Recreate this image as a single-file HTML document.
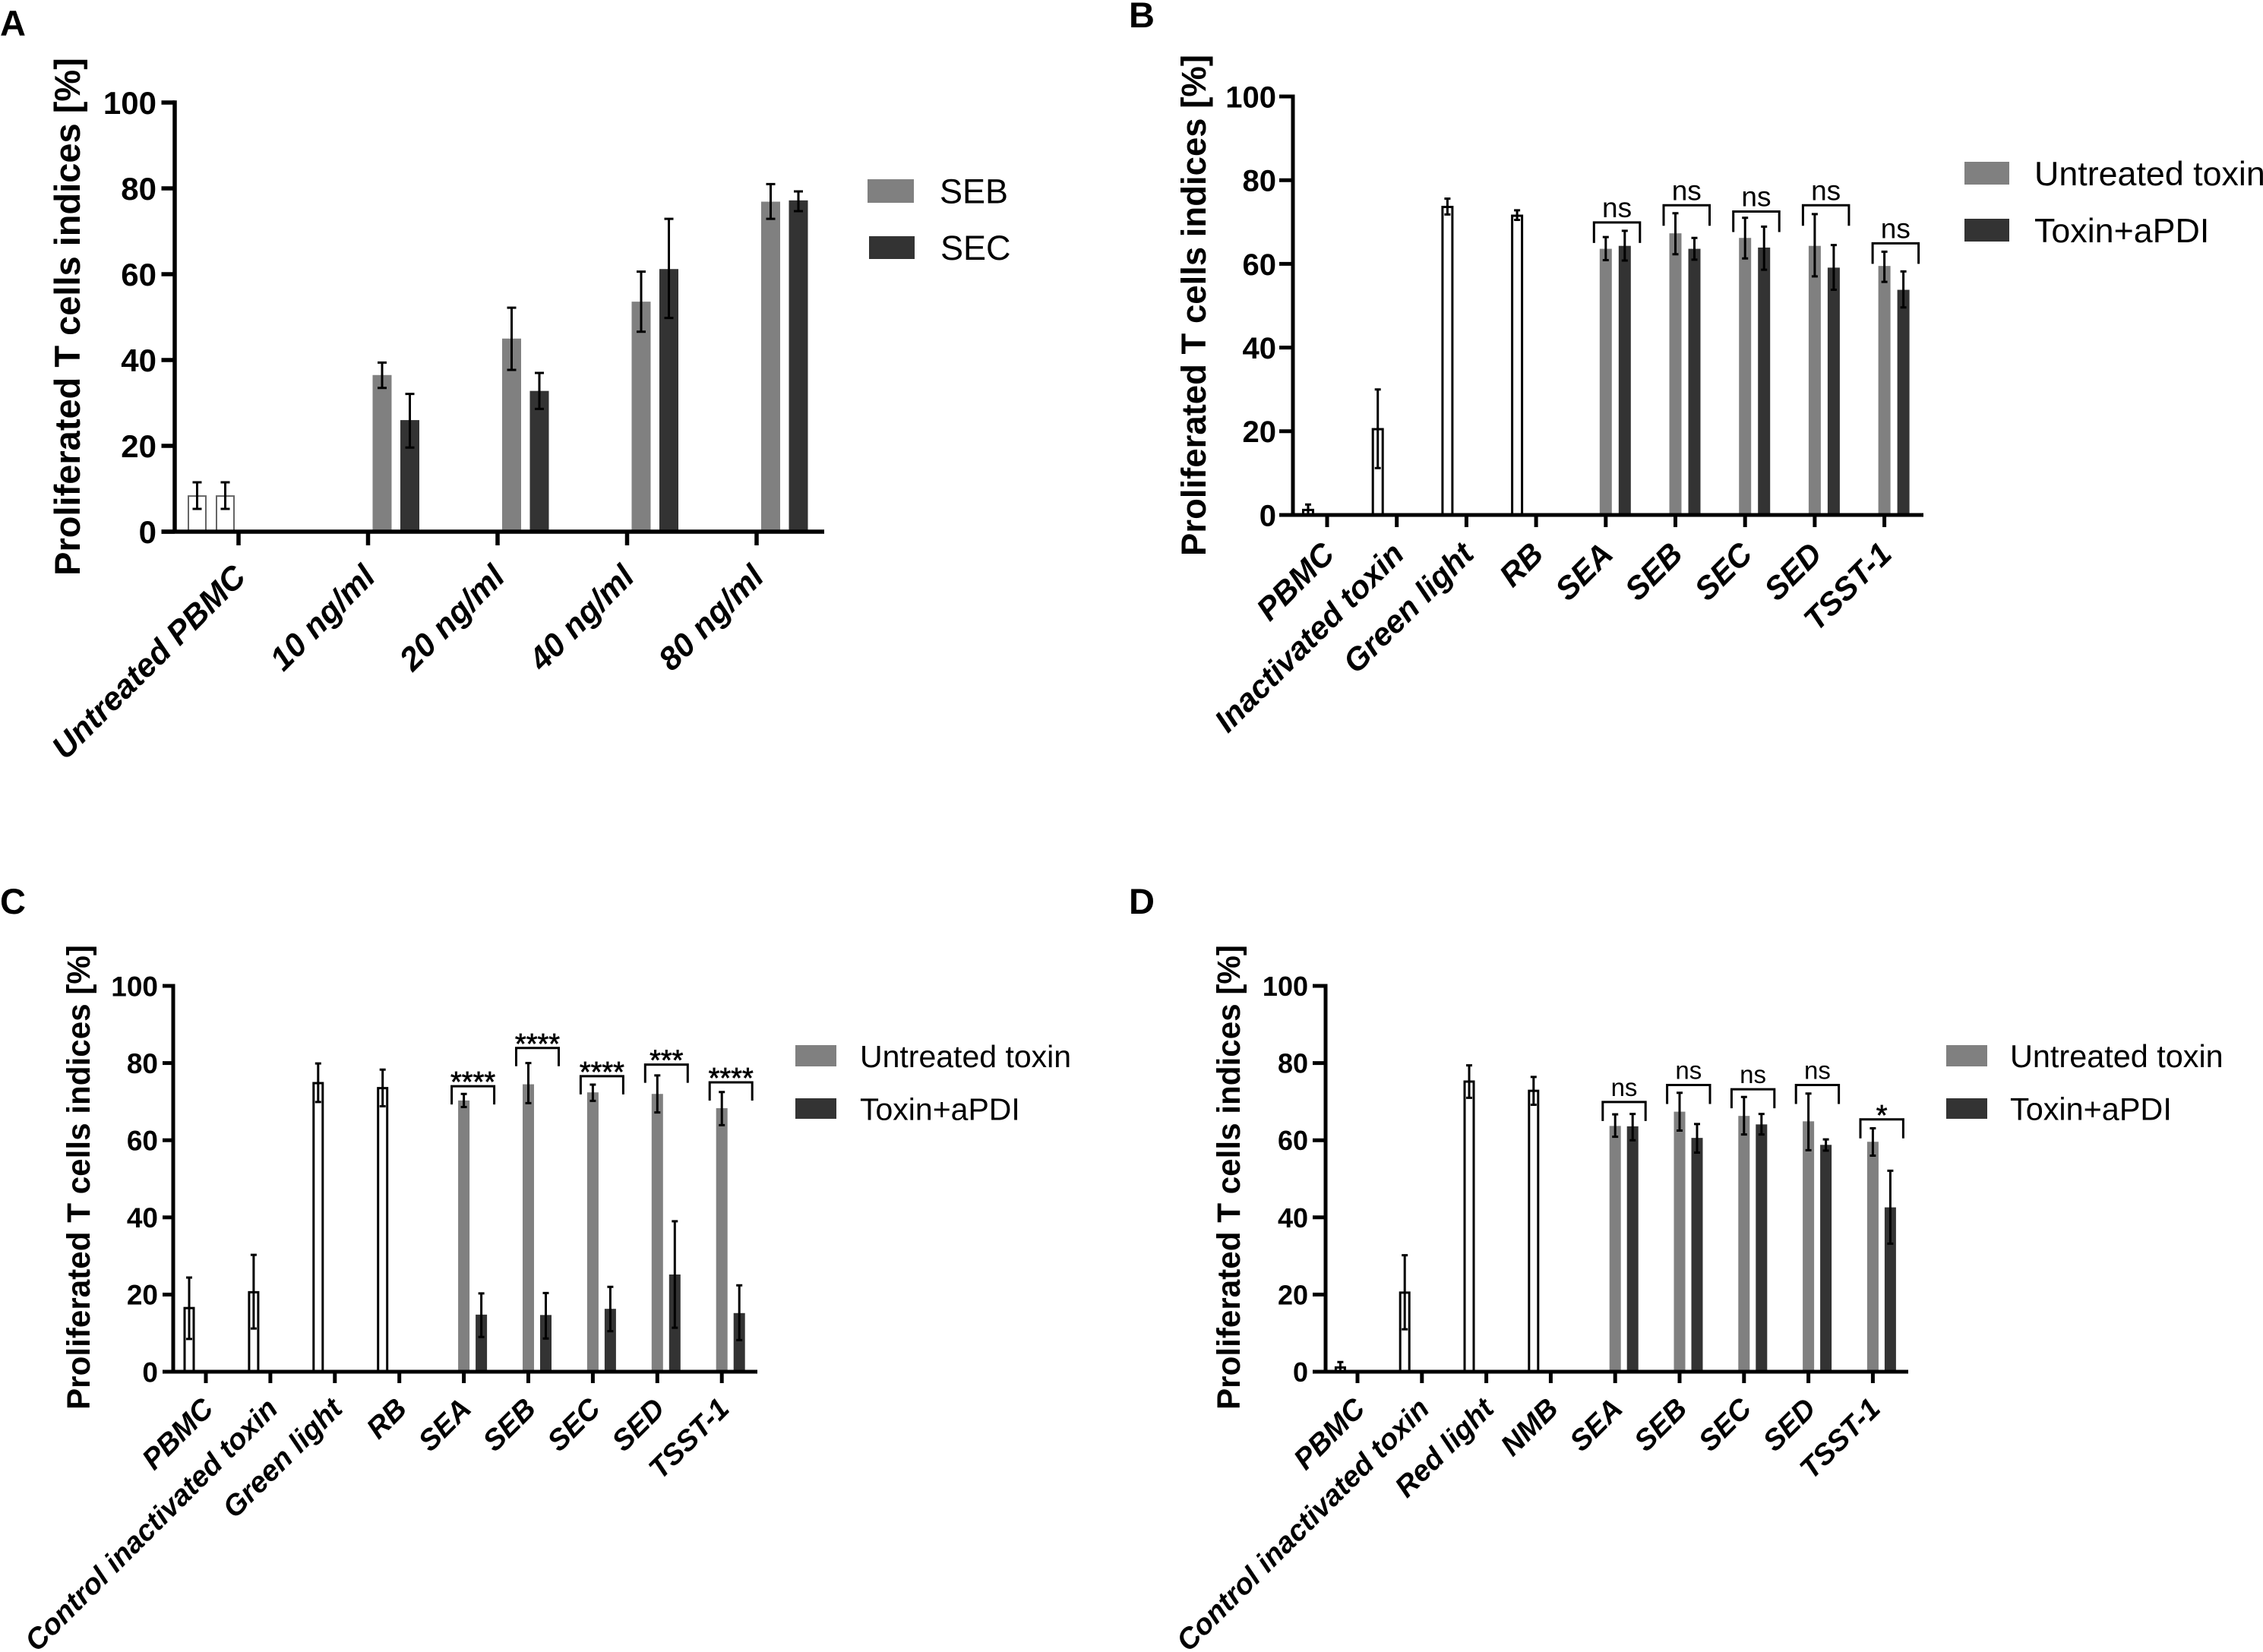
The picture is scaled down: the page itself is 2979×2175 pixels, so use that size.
<!DOCTYPE html>
<html lang="en">
<head>
<meta charset="utf-8">
<title>Proliferated T cells indices</title>
<style>
html,body{margin:0;padding:0;background:#fff;width:2979px;height:2175px;overflow:hidden}
svg{display:block}
text{font-family:"Liberation Sans",Arial,sans-serif;fill:#000}
</style>
</head>
<body>
<svg id="fig" xmlns="http://www.w3.org/2000/svg" width="2979" height="2175" viewBox="0 0 2979 2175"></svg>
<script>
const yTickValues = [0, 20, 40, 60, 80, 100];
const yAxisTitle = 'Proliferated T cells indices [%]';

/* Panel A */
const aCategories = ['Untreated PBMC', '10 ng/ml', '20 ng/ml', '40 ng/ml', '80 ng/ml'];
const aCtrl1 = [8.3, null, null, null, null];
const aCtrl1Hi = [11.5, null, null, null, null];
const aCtrl1Lo = [5.3, null, null, null, null];
const aCtrl2 = [8.3, null, null, null, null];
const aCtrl2Hi = [11.5, null, null, null, null];
const aCtrl2Lo = [5.3, null, null, null, null];
const aSEB = [null, 36.5, 45, 53.6, 76.9];
const aSEBHi = [null, 39.4, 52.2, 60.6, 81];
const aSEBLo = [null, 33.5, 37.7, 46.6, 72.9];
const aSEC = [null, 26, 32.8, 61.2, 77.2];
const aSECHi = [null, 32.1, 37, 72.9, 79.3];
const aSECLo = [null, 19.6, 28.6, 49.8, 74.7];

/* Panel B */
const bCategories = ['PBMC', 'Inactivated toxin', 'Green light', 'RB', 'SEA', 'SEB', 'SEC', 'SED', 'TSST-1'];
const bCtrl = [1.2, 20.5, 73.6, 71.5, null, null, null, null, null];
const bCtrlHi = [2.5, 30, 75.6, 72.8, null, null, null, null, null];
const bCtrlLo = [0, 11.2, 71.8, 70.5, null, null, null, null, null];
const bUntreated = [null, null, null, null, 63.6, 67.3, 66.2, 64.3, 59.5];
const bUntreatedHi = [null, null, null, null, 66.4, 72.1, 71, 71.9, 62.9];
const bUntreatedLo = [null, null, null, null, 60.9, 62.3, 61.3, 57, 55.7];
const bToxin = [null, null, null, null, 64.3, 63.6, 63.9, 59.1, 53.8];
const bToxinHi = [null, null, null, null, 67.9, 66.2, 68.9, 64.5, 58.2];
const bToxinLo = [null, null, null, null, 60.8, 61, 58.6, 53.8, 49.6];
const bBracketLevels = [null, null, null, null, 69.9, 74, 72.5, 74, 64.9];
const bBracketLabels = ['', '', '', '', 'ns', 'ns', 'ns', 'ns', 'ns'];

/* Panel C */
const cCategories = ['PBMC', 'Control inactivated toxin', 'Green light', 'RB', 'SEA', 'SEB', 'SEC', 'SED', 'TSST-1'];
const cCtrl = [16.5, 20.6, 74.8, 73.5, null, null, null, null, null];
const cCtrlHi = [24.4, 30.3, 79.9, 78.3, null, null, null, null, null];
const cCtrlLo = [8.5, 11.2, 69.9, 68.8, null, null, null, null, null];
const cUntreated = [null, null, null, null, 70.3, 74.5, 72.4, 72, 68.3];
const cUntreatedHi = [null, null, null, null, 72, 80, 74.4, 76.8, 72.5];
const cUntreatedLo = [null, null, null, null, 68.6, 69.6, 70.2, 67.2, 63.9];
const cToxin = [null, null, null, null, 14.8, 14.7, 16.3, 25.2, 15.2];
const cToxinHi = [null, null, null, null, 20.3, 20.4, 22, 39, 22.4];
const cToxinLo = [null, null, null, null, 9, 8.6, 10.5, 11.4, 8.2];
const cBracketLevels = [null, null, null, null, 74, 83.9, 76.6, 79.6, 75];
const cBracketLabels = ['', '', '', '', '****', '****', '****', '***', '****'];

/* Panel D */
const dCategories = ['PBMC', 'Control inactivated toxin', 'Red light', 'NMB', 'SEA', 'SEB', 'SEC', 'SED', 'TSST-1'];
const dCtrl = [1.1, 20.5, 75.2, 72.8, null, null, null, null, null];
const dCtrlHi = [2.5, 30.2, 79.4, 76.4, null, null, null, null, null];
const dCtrlLo = [0, 11, 71, 69.2, null, null, null, null, null];
const dUntreated = [null, null, null, null, 63.7, 67.4, 66.3, 64.9, 59.6];
const dUntreatedHi = [null, null, null, null, 66.7, 72.3, 71.2, 72.1, 63.1];
const dUntreatedLo = [null, null, null, null, 60.9, 62.5, 61.5, 57.4, 56];
const dToxin = [null, null, null, null, 63.6, 60.6, 64.1, 58.8, 42.6];
const dToxinHi = [null, null, null, null, 66.8, 64.2, 66.8, 60.2, 52.1];
const dToxinLo = [null, null, null, null, 60, 56.8, 61.5, 57.3, 33.2];
const dBracketLevels = [null, null, null, null, 69.9, 74.3, 73.2, 74.3, 65.4];
const dBracketLabels = ['', '', '', '', 'ns', 'ns', 'ns', 'ns', '*'];

const svg = document.getElementById('fig');
const NS = 'http://www.w3.org/2000/svg';

function make(tag, attrs, parent, txt) {
  const node = document.createElementNS(NS, tag);
  for (const k in attrs) node.setAttribute(k, attrs[k]);
  if (txt !== undefined) node.textContent = txt;
  parent.appendChild(node);
  return node;
}

function drawPanel(c) {
  const yScale = v => c.y0 - (v / 100) * (c.y0 - c.y100);
  const xScale = i => c.x0 + i * c.step;

  const g = make('g', {}, svg);
  
  

  const letter = make('text', {x: c.letterX, y: c.letterY, 'font-size': 47, 'font-weight': 'bold'}, g, c.id);
  
  

  c.series.forEach(s => {
    s.values.forEach((v, i) => {
      if (v === null) return;
      const cx = xScale(i) + s.offset;
      const top = yScale(v);
      const inset = s.white ? c.outline / 2 : 0;
      const bar = make('rect', {
        x: cx - c.barW / 2 + inset, y: top, width: c.barW - inset * 2, height: c.y0 - top,
        fill: s.white ? '#fff' : s.color,
        stroke: s.white ? c.outlineColor : 'none',
        'stroke-width': s.white ? c.outline : 0
      }, g);
      
      

      const yHi = yScale(s.hi[i]);
      const yLo = yScale(s.lo[i]);
      const d = 'M' + cx + ' ' + yHi + 'V' + yLo +
        'M' + (cx - c.cap) + ' ' + yHi + 'H' + (cx + c.cap) +
        'M' + (cx - c.cap) + ' ' + yLo + 'H' + (cx + c.cap);
      const err = make('path', {d: d, stroke: '#000', 'stroke-width': c.errW, fill: 'none'}, g);
      
      
    });
  });

  const xAxis = make('line', {x1: c.axisLeft, x2: c.axisRight, y1: c.y0, y2: c.y0, stroke: '#000', 'stroke-width': c.axisW}, g);
  
  

  const yAxis = make('line', {x1: c.x, x2: c.x, y1: c.y100 - c.axisW / 2, y2: c.y0, stroke: '#000', 'stroke-width': c.axisW}, g);
  
  

  yTickValues.forEach(v => {
    const t = make('line', {x1: c.axisLeft, x2: c.x, y1: yScale(v), y2: yScale(v), stroke: '#000', 'stroke-width': c.axisW}, g);
    
    
    const l = make('text', {x: c.yLabelRight, y: yScale(v) + c.yFont * 0.36, 'font-size': c.yFont, 'font-weight': 'bold', 'text-anchor': 'end'}, g, String(v));
    
    
  });

  c.categories.forEach((name, i) => {
    const t = make('line', {x1: xScale(i), x2: xScale(i), y1: c.y0, y2: c.tickBottom, stroke: '#000', 'stroke-width': c.axisW}, g);
    
    
    const ax = xScale(i) + c.labelDx;
    const ay = c.tickBottom + c.labelDy;
    const l = make('text', {
      transform: 'translate(' + ax + ' ' + ay + ') rotate(-45)',
      'font-size': c.xFont, 'font-weight': 'bold', 'font-style': 'italic', 'text-anchor': 'end'
    }, g, name);
    
    
  });

  const title = make('text', {
    transform: 'translate(' + c.titleX + ' ' + c.titleY + ') rotate(-90)',
    'font-size': c.titleFont, 'font-weight': 'bold', 'text-anchor': 'middle'
  }, g, yAxisTitle);
  
  

  if (c.levels) {
    c.levels.forEach((lv, i) => {
      if (lv === null) return;
      const left = xScale(i) + c.brL;
      const right = xScale(i) + c.brR;
      const top = yScale(lv);
      const leg = top + c.brLeg;
      const br = make('path', {
        d: 'M' + left + ' ' + leg + 'V' + top + 'H' + right + 'V' + leg,
        fill: 'none', stroke: '#000', 'stroke-width': c.brW
      }, g);
      
      
      const isStar = c.marks[i].indexOf('*') === 0;
      const lab = make('text', {
        x: (left + right) / 2,
        y: top + (isStar ? c.starDy : c.nsDy),
        'font-size': isStar ? c.starFont : c.nsFont,
        'text-anchor': 'middle',
        stroke: isStar ? '#000' : 'none',
        'stroke-width': isStar ? 0.7 : 0
      }, g, c.marks[i]);
      
      
    });
  }

  c.legend.forEach(e => {
    const sw = make('rect', {x: e.x, y: e.y, width: e.w, height: e.h, fill: e.color}, g);
    
    
    const tx = make('text', {x: e.tx, y: e.y + e.h / 2 + e.font * 0.36, 'font-size': e.font}, g, e.label);
    
    
  });
}

const GREY = '#808080';
const DARK = '#333333';

drawPanel({
  id: 'A', letterX: 0, letterY: 47,
  x: 230, axisLeft: 212.5, axisRight: 1085, x0: 314, step: 170.5, y0: 700, y100: 135, tickBottom: 718,
  axisW: 5.5, barW: 25, outline: 2, outlineColor: '#666', cap: 6, errW: 3,
  yFont: 42, yLabelRight: 206, xFont: 43, labelDx: 12, labelDy: 44,
  titleX: 105, titleY: 417, titleFont: 47,
  categories: aCategories,
  series: [
    {name: 'untreated-1', values: aCtrl1, hi: aCtrl1Hi, lo: aCtrl1Lo, offset: -54.5, white: true},
    {name: 'untreated-2', values: aCtrl2, hi: aCtrl2Hi, lo: aCtrl2Lo, offset: -17.5, white: true},
    {name: 'seb', values: aSEB, hi: aSEBHi, lo: aSEBLo, offset: 18.5, color: GREY},
    {name: 'sec', values: aSEC, hi: aSECHi, lo: aSECLo, offset: 55, color: DARK}
  ],
  legend: [
    {x: 1142, y: 236, w: 61, h: 31, color: GREY, tx: 1237, font: 45, label: 'SEB'},
    {x: 1144, y: 311, w: 60, h: 30, color: DARK, tx: 1238, font: 45, label: 'SEC'}
  ]
});

drawPanel({
  id: 'B', letterX: 1486, letterY: 36,
  x: 1702, axisLeft: 1684, axisRight: 2532, x0: 1747, step: 91.7, y0: 678, y100: 127, tickBottom: 694,
  axisW: 5, barW: 16, outline: 3, outlineColor: '#000', cap: 4, errW: 3,
  yFont: 40, yLabelRight: 1680, xFont: 42, labelDx: 12, labelDy: 38,
  titleX: 1587, titleY: 402, titleFont: 45.5,
  categories: bCategories,
  series: [
    {name: 'control', values: bCtrl, hi: bCtrlHi, lo: bCtrlLo, offset: -25, white: true},
    {name: 'untreated-toxin', values: bUntreated, hi: bUntreatedHi, lo: bUntreatedLo, offset: 0, color: GREY},
    {name: 'toxin-apdi', values: bToxin, hi: bToxinHi, lo: bToxinLo, offset: 25, color: DARK}
  ],
  levels: bBracketLevels, marks: bBracketLabels,
  brL: -15.5, brR: 45, brLeg: 27, brW: 3, nsDy: -7, nsFont: 37, starDy: 7, starFont: 38,
  legend: [
    {x: 2586, y: 213, w: 59, h: 30, color: GREY, tx: 2678, font: 44.8, label: 'Untreated toxin'},
    {x: 2586, y: 288, w: 59, h: 30, color: DARK, tx: 2678, font: 44.8, label: 'Toxin+aPDI'}
  ]
});

drawPanel({
  id: 'C', letterX: 0, letterY: 1203,
  x: 228, axisLeft: 214, axisRight: 997, x0: 271, step: 84.9, y0: 1806, y100: 1298, tickBottom: 1821,
  axisW: 5, barW: 15, outline: 3, outlineColor: '#000', cap: 4, errW: 3,
  yFont: 37, yLabelRight: 208, xFont: 38.5, labelDx: 12, labelDy: 36,
  titleX: 118, titleY: 1550, titleFont: 42.2,
  categories: cCategories,
  series: [
    {name: 'control', values: cCtrl, hi: cCtrlHi, lo: cCtrlLo, offset: -22, white: true},
    {name: 'untreated-toxin', values: cUntreated, hi: cUntreatedHi, lo: cUntreatedLo, offset: 0, color: GREY},
    {name: 'toxin-apdi', values: cToxin, hi: cToxinHi, lo: cToxinLo, offset: 23, color: DARK}
  ],
  levels: cBracketLevels, marks: cBracketLabels,
  brL: -16, brR: 40, brLeg: 24, brW: 3, nsDy: -7, nsFont: 33, starDy: 7, starFont: 38,
  legend: [
    {x: 1047, y: 1376, w: 54, h: 28, color: GREY, tx: 1132, font: 41, label: 'Untreated toxin'},
    {x: 1047, y: 1446, w: 54, h: 27, color: DARK, tx: 1132, font: 41, label: 'Toxin+aPDI'}
  ]
});

drawPanel({
  id: 'D', letterX: 1486, letterY: 1203,
  x: 1745, axisLeft: 1728, axisRight: 2512, x0: 1787, step: 84.8, y0: 1806, y100: 1298, tickBottom: 1821,
  axisW: 5, barW: 15, outline: 3, outlineColor: '#000', cap: 4, errW: 3,
  yFont: 36, yLabelRight: 1722, xFont: 38.5, labelDx: 12, labelDy: 36,
  titleX: 1632, titleY: 1550, titleFont: 42.2,
  categories: dCategories,
  series: [
    {name: 'control', values: dCtrl, hi: dCtrlHi, lo: dCtrlLo, offset: -22.6, white: true},
    {name: 'untreated-toxin', values: dUntreated, hi: dUntreatedHi, lo: dUntreatedLo, offset: 0, color: GREY},
    {name: 'toxin-apdi', values: dToxin, hi: dToxinHi, lo: dToxinLo, offset: 23, color: DARK}
  ],
  levels: dBracketLevels, marks: dBracketLabels,
  brL: -16.4, brR: 40, brLeg: 25, brW: 3, nsDy: -8, nsFont: 33, starDy: 7, starFont: 38,
  legend: [
    {x: 2562, y: 1376, w: 54, h: 28, color: GREY, tx: 2646, font: 41.4, label: 'Untreated toxin'},
    {x: 2562, y: 1446, w: 54, h: 27, color: DARK, tx: 2646, font: 41.4, label: 'Toxin+aPDI'}
  ]
});
</script>
</body>
</html>
